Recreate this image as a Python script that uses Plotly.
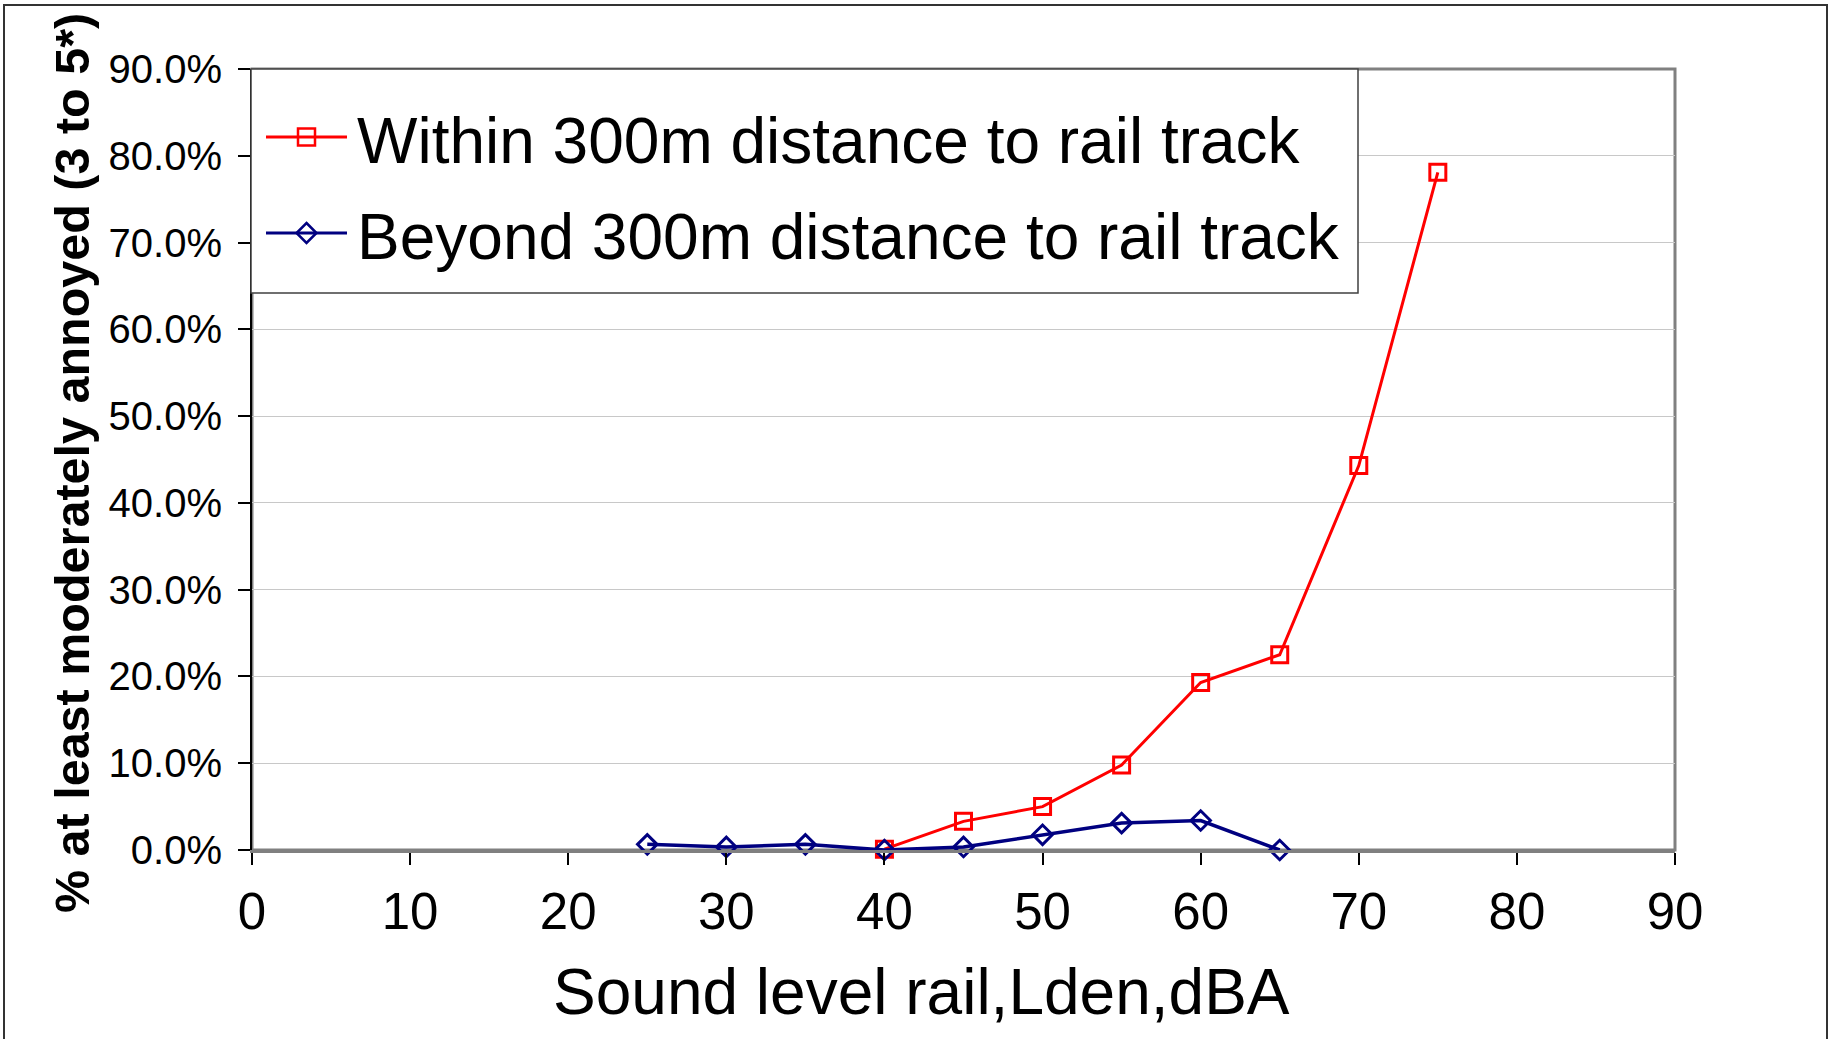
import plotly.graph_objects as go

# ---- data ----
x_within = [40, 45, 50, 55, 60, 65, 70, 75]
y_within = [0.1, 3.3, 5.0, 9.8, 19.3, 22.5, 44.3, 78.1]  # percent
x_beyond = [25, 30, 35, 40, 45, 50, 55, 60, 65]
y_beyond = [0.65, 0.35, 0.65, 0.0, 0.35, 1.75, 3.1, 3.4, 0.0]  # percent
name_within = "Within 300m distance to rail track"
name_beyond = "Beyond 300m distance to rail track"
x_title = "Sound level rail,Lden,dBA"
y_title = "% at least moderately annoyed (3 to 5*)"

FONT = "Liberation Sans, Arial, sans-serif"
W, H = 1835, 1039
L, R, T, B = 252, 1675, 69, 850


def px(x):
    return (x - L) / (R - L)


def py(y):
    return (B - y) / (B - T)


fig = go.Figure()
fig.add_trace(go.Scatter(
    x=x_within, y=[v / 100 for v in y_within], mode="lines+markers", name=name_within,
    line=dict(color="#FF0000", width=3),
    marker=dict(symbol="square-open", size=16, color="#FF0000", line=dict(width=3)),
    cliponaxis=False, showlegend=False))
fig.add_trace(go.Scatter(
    x=x_beyond, y=[v / 100 for v in y_beyond], mode="lines+markers", name=name_beyond,
    line=dict(color="#000080", width=3.5),
    marker=dict(symbol="diamond-open", size=15, color="#000080", line=dict(width=3)),
    cliponaxis=False, showlegend=False))

shapes = []
annotations = []
# outer chart border
shapes.append(dict(type="rect", xref="paper", yref="paper", x0=px(4), x1=px(1827), y0=py(1045), y1=py(5),
                   line=dict(color="#333333", width=2), layer="below"))
# plot area border
shapes.append(dict(type="rect", xref="paper", yref="paper", x0=0, x1=1, y0=0, y1=1,
                   line=dict(color="#808080", width=3), layer="below"))

# legend box
lx0, lx1, ly0, ly1 = 251, 1358, 69, 293
shapes.append(dict(type="rect", xref="paper", yref="paper", x0=px(lx0), x1=px(lx1), y0=py(ly1), y1=py(ly0),
                   line=dict(color="#404040", width=1.5), fillcolor="white", layer="above"))
rows = [(137, "#FF0000", "square", name_within), (233, "#000080", "diamond", name_beyond)]
for ry, col, sym, label in rows:
    shapes.append(dict(type="line", xref="paper", yref="paper", x0=px(266), x1=px(347), y0=py(ry), y1=py(ry),
                       line=dict(color=col, width=3), layer="above"))
    cx = 306.5
    if sym == "square":
        s = 8.5
        shapes.append(dict(type="rect", xref="paper", yref="paper", x0=px(cx - s), x1=px(cx + s),
                           y0=py(ry + s), y1=py(ry - s), line=dict(color=col, width=2.5), layer="above"))
    else:
        d = 10
        path = "M {a},{b} L {c},{e} L {a},{f} L {g},{e} Z".format(
            a=px(cx), b=py(ry - d), c=px(cx + d), e=py(ry), f=py(ry + d), g=px(cx - d))
        shapes.append(dict(type="path", xref="paper", yref="paper", path=path,
                           line=dict(color=col, width=2.5), layer="above"))
    annotations.append(dict(xref="paper", yref="paper", x=px(355), y=py(ry + 4), xanchor="left", yanchor="middle",
                            text=label, showarrow=False, font=dict(size=64, color="black", family=FONT)))

# axis titles
annotations.append(dict(xref="paper", yref="paper", x=px(921), y=py(992), xanchor="center", yanchor="middle",
                        text=x_title, showarrow=False, font=dict(size=64, color="black", family=FONT)))
annotations.append(dict(xref="paper", yref="paper", x=px(72), y=py(463), xanchor="center", yanchor="middle",
                        text="<b>" + y_title + "</b>", textangle=-90, showarrow=False,
                        font=dict(size=48.5, color="black", family=FONT)))

fig.update_layout(
    width=W, height=H,
    margin=dict(l=L, r=W - R, t=T, b=H - B, pad=0),
    paper_bgcolor="white", plot_bgcolor="white",
    font=dict(family=FONT, color="black"),
    showlegend=False,
    shapes=shapes, annotations=annotations,
    xaxis=dict(range=[0, 90], dtick=10, tick0=0, showgrid=False, zeroline=False,
               showline=True, linecolor="#808080", linewidth=3,
               ticks="outside", ticklen=12, tickwidth=1.5, tickcolor="black",
               tickfont=dict(size=51, color="black", family=FONT), ticklabelstandoff=3),
    yaxis=dict(range=[0, 0.9], dtick=0.1, tick0=0, tickformat=".1%",
               showgrid=True, gridcolor="#c8c8c8", gridwidth=1, zeroline=False,
               showline=True, linecolor="black", linewidth=2,
               ticks="outside", ticklen=12, tickwidth=1.5, tickcolor="black",
               tickfont=dict(size=40, color="black", family=FONT), ticklabelstandoff=8),
)

fig.write_html("out.html")
